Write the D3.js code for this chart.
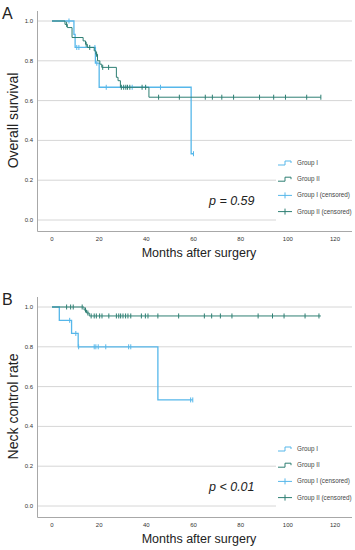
<!DOCTYPE html>
<html lang="en">
<head>
    <meta charset="UTF-8">
    <title>Kaplan-Meier curves</title>
    <style>
        body { margin: 0; background: #fff; }
        text { font-family: "Liberation Sans", Arial, sans-serif; fill: #222; }
        .grid { stroke: #d6d6d6; stroke-width: 1px; }
        .frame { stroke: #a8a8a8; stroke-width: 1px; fill: none; }
        .tick { font-size: 6px; fill: #333; }
        .legend text { font-size: 6.3px; fill: #444; }
    </style>
</head>
<body>
    <svg width="355" height="550"></svg>
    <script src="https://d3js.org/d3.v7.min.js"></script>
    <script>
        const xTicks = [0, 20, 40, 60, 80, 100, 120];
        const yTicks = [0, 0.2, 0.4, 0.6, 0.8, 1.0];
        const legendLabels = ["Group I", "Group II", "Group I (censored)", "Group II (censored)"];

        // A: overall survival
        const osG1Time = [0, 9.3, 9.8, 18.4, 20, 59, 60];
        const osG1Surv = [1, 0.933, 0.867, 0.788, 0.667, 0.333, 0.333];
        const osG1Cens = [7.2, 10.5, 11.4, 18.2, 19, 23, 34, 46, 60];
        const osG2Time = [0, 5.5, 6.5, 8.5, 13.2, 14.2, 15, 17.9, 18.6, 19.3, 20.3, 21.1, 27.3, 28, 29, 41.1, 114];
        const osG2Surv = [1, 0.983, 0.967, 0.917, 0.9, 0.883, 0.867, 0.85, 0.833, 0.8, 0.783, 0.767, 0.717, 0.7, 0.667, 0.617, 0.617];
        const osG2Cens = [6.2, 14.5, 16, 18.9, 21.5, 24, 29.4, 30.4, 31.3, 32, 33, 38.2, 39.7, 45.2, 54, 65, 68, 72, 77, 88, 94, 99, 108, 114];

        // B: neck control rate
        const ncG1Time = [0, 3.1, 8.3, 11.1, 44.9, 59.7];
        const ncG1Surv = [1, 0.933, 0.867, 0.8, 0.533, 0.533];
        const ncG1Cens = [7.5, 10.1, 11.3, 17.9, 18.6, 19.6, 22.8, 32.5, 33.4, 58.8, 59.7];
        const ncG2Time = [0, 13.6, 14.6, 15.8, 114];
        const ncG2Surv = [1, 0.985, 0.97, 0.955, 0.955];
        const ncG2Cens = [6.2, 7.9, 9, 12.8, 14.2, 15.2, 16.6, 17.9, 18.8, 20.2, 21.2, 24.1, 27.3, 28.3, 29.1, 30.1, 31.2, 32.2, 33.4,
            37.9, 39.6, 40.7, 44.9, 53.7, 64.6, 67.7, 71.4, 76.3, 87.4, 93.5, 98.4, 107.3, 113.2];

        const blue = "#56b7ea", green = "#2e7f73";

        const svg = d3.select("svg");

        function survAt(times, surv, t) {
            let v = surv[0];
            times.forEach((tt, i) => { if (tt <= t) v = surv[i]; });
            return v;
        }

        function drawPanel(off, letter, yTitle, pText, groups) {
            const g = svg.append("g").attr("transform", `translate(0,${off})`);
            const x = d3.scaleLinear().domain([0, 120]).range([52, 335]);
            const y = d3.scaleLinear().domain([0, 1]).range([220, 21]);

            g.selectAll(".grid").data(yTicks).enter().append("line")
                .attr("class", "grid")
                .attr("x1", 37).attr("x2", 352)
                .attr("y1", d => y(d)).attr("y2", d => y(d));

            g.append("path").attr("class", "frame")
                .attr("d", "M37.5,11V231.5H352");

            g.selectAll(".ytick").data(yTicks).enter().append("text")
                .attr("class", "tick")
                .attr("x", 33).attr("y", d => y(d) + 2)
                .attr("text-anchor", "end")
                .text(d3.format(".1f"));

            g.selectAll(".xtick").data(xTicks).enter().append("text")
                .attr("class", "tick")
                .attr("x", d => x(d)).attr("y", 241)
                .attr("text-anchor", "middle")
                .text(d => d);

            g.append("text").attr("x", 199).attr("y", 257)
                .attr("text-anchor", "middle").style("font-size", "12.5px")
                .text("Months after surgery");

            g.append("text")
                .attr("transform", `translate(18,${y(0.5)}) rotate(-90)`)
                .attr("text-anchor", "middle").style("font-size", "14px")
                .text(yTitle);

            g.append("text").attr("x", 2).attr("y", 19)
                .style("font-size", "16px").text(letter);

            const line = d3.line().curve(d3.curveStepAfter)
                .x(d => x(d[0])).y(d => y(d[1]));

            groups.forEach(grp => {
                const pts = grp.time.map((t, i) => [t, grp.surv[i]]);
                g.append("path")
                    .attr("d", line(pts))
                    .attr("fill", "none")
                    .attr("stroke", grp.color)
                    .attr("stroke-width", grp.width);

                g.selectAll(null).data(grp.cens).enter().append("line")
                    .attr("x1", d => x(d)).attr("x2", d => x(d))
                    .attr("y1", d => y(survAt(grp.time, grp.surv, d)) - 2.5)
                    .attr("y2", d => y(survAt(grp.time, grp.surv, d)) + 2.5)
                    .attr("stroke", grp.color)
                    .attr("stroke-width", 1);
            });

            // legend
            const lg = g.append("g").attr("class", "legend");
            lg.append("rect").attr("x", 276).attr("y", 153).attr("width", 79).attr("height", 70).attr("fill", "#fff");
            const colors = [blue, green, blue, green];
            legendLabels.forEach((lab, i) => {
                const ly = 163 + i * 16.2;
                if (i < 2) {
                    lg.append("path")
                        .attr("d", `M278,${ly + 2}H285V${ly - 2}H291V${ly}`)
                        .attr("fill", "none").attr("stroke", colors[i]).attr("stroke-width", 1);
                } else {
                    lg.append("path")
                        .attr("d", `M278,${ly}H292M285,${ly - 3}V${ly + 3}`)
                        .attr("fill", "none").attr("stroke", colors[i]).attr("stroke-width", 1);
                }
                lg.append("text").attr("x", 297).attr("y", ly + 2).text(lab);
            });

            g.append("text").attr("x", 209).attr("y", 205)
                .style("font-size", "12.5px").style("font-style", "italic")
                .text(pText);
        }

        drawPanel(0, "A", "Overall survival", "p = 0.59", [
            { time: osG1Time, surv: osG1Surv, cens: osG1Cens, color: blue, width: 1.3 },
            { time: osG2Time, surv: osG2Surv, cens: osG2Cens, color: green, width: 1 }
        ]);

        drawPanel(286, "B", "Neck control rate", "p < 0.01", [
            { time: ncG1Time, surv: ncG1Surv, cens: ncG1Cens, color: blue, width: 1.3 },
            { time: ncG2Time, surv: ncG2Surv, cens: ncG2Cens, color: green, width: 1 }
        ]);
    </script>
</body>
</html>
